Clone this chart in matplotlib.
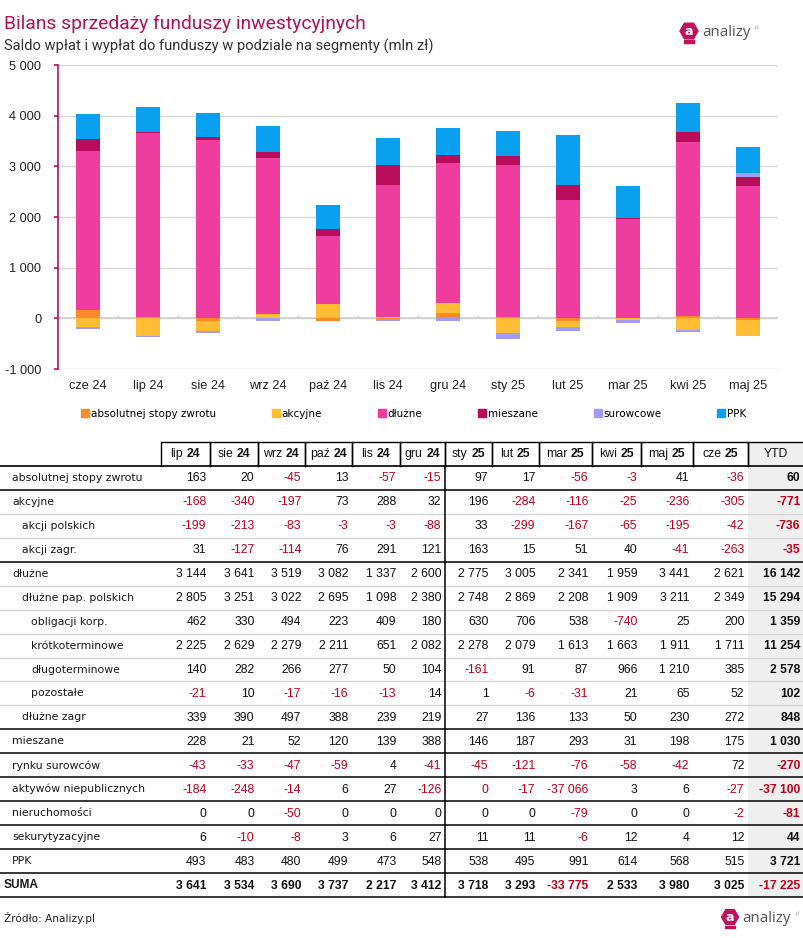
import matplotlib
matplotlib.use("Agg")
import matplotlib.pyplot as plt
import numpy as np
from matplotlib.lines import Line2D
from matplotlib.patches import RegularPolygon, Rectangle
from matplotlib.ticker import FuncFormatter, MultipleLocator

# ---------------- data ----------------
chart_months = ["cze 24", "lip 24", "sie 24", "wrz 24", "paź 24", "lis 24",
                "gru 24", "sty 25", "lut 25", "mar 25", "kwi 25", "maj 25"]
table_months = ["lip 24", "sie 24", "wrz 24", "paź 24", "lis 24", "gru 24",
                "sty 25", "lut 25", "mar 25", "kwi 25", "maj 25", "cze 25"]
ytd_label = "YTD"

absolutnej = [163, 20, -45, 13, -57, -15, 97, 17, -56, -3, 41, -36, 60]
akcyjne = [-168, -340, -197, 73, 288, 32, 196, -284, -116, -25, -236, -305, -771]
akcji_polskich = [-199, -213, -83, -3, -3, -88, 33, -299, -167, -65, -195, -42, -736]
akcji_zagr = [31, -127, -114, 76, 291, 121, 163, 15, 51, 40, -41, -263, -35]
dluzne = [3144, 3641, 3519, 3082, 1337, 2600, 2775, 3005, 2341, 1959, 3441, 2621, 16142]
dluzne_pap_pl = [2805, 3251, 3022, 2695, 1098, 2380, 2748, 2869, 2208, 1909, 3211, 2349, 15294]
obligacji_korp = [462, 330, 494, 223, 409, 180, 630, 706, 538, -740, 25, 200, 1359]
krotkoterminowe = [2225, 2629, 2279, 2211, 651, 2082, 2278, 2079, 1613, 1663, 1911, 1711, 11254]
dlugoterminowe = [140, 282, 266, 277, 50, 104, -161, 91, 87, 966, 1210, 385, 2578]
pozostale = [-21, 10, -17, -16, -13, 14, 1, -6, -31, 21, 65, 52, 102]
dluzne_zagr = [339, 390, 497, 388, 239, 219, 27, 136, 133, 50, 230, 272, 848]
mieszane = [228, 21, 52, 120, 139, 388, 146, 187, 293, 31, 198, 175, 1030]
surowcow = [-43, -33, -47, -59, 4, -41, -45, -121, -76, -58, -42, 72, -270]
niepublicznych = [-184, -248, -14, 6, 27, -126, -0.4, -17, -37066, 3, 6, -27, -37100]
nieruchomosci = [0, 0, -50, 0, 0, 0, 0, 0, -79, 0, 0, -2, -81]
sekurytyzacyjne = [6, -10, -8, 3, 6, 27, 11, 11, -6, 12, 4, 12, 44]
ppk = [493, 483, 480, 499, 473, 548, 538, 495, 991, 614, 568, 515, 3721]
suma = [3641, 3534, 3690, 3737, 2217, 3412, 3718, 3293, -33775, 2533, 3980, 3025, -17225]

table_rows = [
    ("absolutnej stopy zwrotu", 0, absolutnej),
    ("akcyjne", 0, akcyjne),
    ("akcji polskich", 1, akcji_polskich),
    ("akcji zagr.", 1, akcji_zagr),
    ("dłużne", 0, dluzne),
    ("dłużne pap. polskich", 1, dluzne_pap_pl),
    ("obligacji korp.", 2, obligacji_korp),
    ("krótkoterminowe", 2, krotkoterminowe),
    ("długoterminowe", 2, dlugoterminowe),
    ("pozostałe", 2, pozostale),
    ("dłużne zagr", 1, dluzne_zagr),
    ("mieszane", 0, mieszane),
    ("rynku surowców", 0, surowcow),
    ("aktywów niepublicznych", 0, niepublicznych),
    ("nieruchomości", 0, nieruchomosci),
    ("sekurytyzacyjne", 0, sekurytyzacyjne),
    ("PPK", 0, ppk),
    ("SUMA", -1, suma),
]

chart_series = [
    ("absolutnej stopy zwrotu", absolutnej, "#ff8a2b"),
    ("akcyjne", akcyjne, "#ffbd35"),
    ("dłużne", dluzne, "#ee3d9f"),
    ("mieszane", mieszane, "#b80d5a"),
    ("surowcowe", surowcow, "#a09cf8"),
    ("PPK", ppk, "#0aa0f0"),
]

# ---------------- figure ----------------
W, H = 804, 938
fig = plt.figure(figsize=(W / 100, H / 100), dpi=100)
CRIMSON = "#b3115a"
RED = "#c0001a"

# chart axes
ax = fig.add_axes([58 / W, 1 - 369 / H, (778 - 58) / W, (369 - 65) / H])
n = len(chart_months)
x = np.arange(n)
pos = np.zeros(n)
neg = np.zeros(n)
for name, vals, col in chart_series:
    v = np.array(vals[:n], dtype=float)
    bottom = np.where(v >= 0, pos, neg)
    ax.bar(x, v, 0.4, bottom=bottom, color=col, zorder=3, linewidth=0)
    pos += np.clip(v, 0, None)
    neg += np.clip(v, None, 0)

ax.set_xlim(-0.5, n - 0.5)
ax.set_ylim(-1000, 5000)
ax.yaxis.set_major_locator(MultipleLocator(1000))
ax.yaxis.set_major_formatter(FuncFormatter(lambda v, p: f"{int(v):,}".replace(",", " ")))
ax.grid(axis="y", color="#d9d9d9", linewidth=1, zorder=0)
ax.axhline(0, color="#cfcfcf", linewidth=1.2, zorder=2)
ax.vlines(np.arange(n) + 0.5, 0, 75, color="#cfcfcf", linewidth=1, zorder=2)
for s in ["top", "right", "bottom"]:
    ax.spines[s].set_visible(False)
ax.spines["left"].set_color(CRIMSON)
ax.spines["left"].set_linewidth(1.2)
ax.set_xticks(x)
ax.set_xticklabels(chart_months)
ax.tick_params(axis="x", length=0, pad=8, labelsize=9.2, labelcolor="#222222")
ax.tick_params(axis="y", length=3, width=1.2, color=CRIMSON, pad=9, labelsize=9.2, labelcolor="#222222")
for lab in ax.get_xticklabels() + ax.get_yticklabels():
    lab.set_fontfamily("Liberation Sans")

# legend
handles = [Line2D([], [], marker="s", linestyle="none", markersize=6,
                  markerfacecolor=c, markeredgecolor=c) for _, _, c in chart_series]
fig.legend(handles, [s[0] for s in chart_series], loc="center",
           bbox_to_anchor=(414 / W, 1 - 414 / H), ncol=6, frameon=False,
           prop={"family": "DejaVu Sans", "size": 7.5}, handlelength=0.6,
           handletextpad=0.25, columnspacing=5.45, borderpad=0)

# overlay axes in pixel coordinates
ov = fig.add_axes([0, 0, 1, 1])
ov.set_xlim(0, W)
ov.set_ylim(H, 0)
ov.axis("off")
ov.patch.set_visible(False)

# titles
ov.text(4, 24, "Bilans sprzedaży funduszy inwestycyjnych", fontsize=13.9,
        family="Roboto", color=CRIMSON, va="center", ha="left")
ov.text(4, 46, "Saldo wpłat i wypłat do funduszy w podziale na segmenty (mln zł)",
        fontsize=10.6, family="Roboto", color="#333333", va="center", ha="left")


def logo(cx, cy, r, fs):
    ov.add_patch(RegularPolygon((cx, cy), numVertices=6, radius=r,
                                orientation=np.pi / 6, color="#c0125b", zorder=5))
    ov.add_patch(Rectangle((cx - r * 0.55, cy + r * 1.05), r * 1.1, r * 0.28,
                           color="#c0125b", zorder=5))
    ov.text(cx, cy + 0.5, "a", color="white", fontsize=fs * 0.85, weight="bold",
            ha="center", va="center", family="DejaVu Sans", zorder=6)
    t = ov.text(cx + r + 4, cy + 2, "analizy", color="#555555", fontsize=fs,
                ha="left", va="center", family="Open Sans", zorder=6)
    return t


logo(689, 31, 9.0, 10.8)
logo(730, 917, 8.5, 10.8)
ov.text(755, 28, "pl", color="#999999", fontsize=3.5, ha="left", va="center")
ov.text(796, 913, "pl", color="#999999", fontsize=3.5, ha="left", va="center")

# ---------------- table ----------------
col_edges = [161, 210, 258, 305, 352, 400, 445, 492, 539, 592, 641, 693, 748, 804]
hdr_top, hdr_bot = 442, 466
row_h = (897 - 466) / len(table_rows)

# YTD background
ov.add_patch(Rectangle((col_edges[-2], hdr_top), col_edges[-1] - col_edges[-2],
                       897 - hdr_top, color="#efefef", zorder=0, linewidth=0))

renderer = fig.canvas.get_renderer()
hcy = (hdr_top + hdr_bot) / 2
headers = table_months + [ytd_label]
for i, h in enumerate(headers):
    l, r = col_edges[i], col_edges[i + 1]
    ov.plot([l, l, r, r], [hdr_bot, hdr_top, hdr_top, hdr_bot], color="black", lw=1, zorder=3)
    cx = (l + r) / 2
    if " " in h:
        m, yv = h.split(" ")
        t1 = ov.text(cx, hcy, m, ha="left", va="center", fontsize=8.8,
                     family="Liberation Sans", color="#111111")
        t2 = ov.text(cx, hcy, yv, ha="left", va="center", fontsize=8.8,
                     family="Liberation Sans", weight="bold", color="#111111")
        w1 = t1.get_window_extent(renderer).width
        w2 = t2.get_window_extent(renderer).width
        gap = 3.5
        start = cx - (w1 + gap + w2) / 2
        t1.set_x(start)
        t2.set_x(start + w1 + gap)
    else:
        ov.text(cx, hcy, h, ha="center", va="center", fontsize=8.8,
                family="Liberation Sans", color="#111111")

# horizontal lines
black_after = {0, 3, 10, 11, 12, 13, 14, 15, 16, 17}
ov.plot([0, W], [hdr_bot, hdr_bot], color="black", lw=1.2, zorder=3)
for i in range(len(table_rows)):
    yb = hdr_bot + row_h * (i + 1)
    if i in black_after:
        ov.plot([0, W], [yb, yb], color="black", lw=1.1, zorder=3)
    else:
        ov.plot([0, W], [yb, yb], color="#d4d4d4", lw=1.0, zorder=2)
# vertical separator
ov.plot([col_edges[6], col_edges[6]], [hdr_bot, 897], color="black", lw=1.1, zorder=3)

indent = {-1: 4, 0: 12, 1: 22, 2: 31}
for i, (label, lvl, vals) in enumerate(table_rows):
    cy = hdr_bot + row_h * (i + 0.5)
    is_sum = lvl == -1
    ov.text(indent[lvl], cy, label, ha="left", va="center",
            fontsize=8.6 if is_sum else 7.8,
            family="Liberation Sans" if is_sum else "DejaVu Sans",
            weight="bold" if is_sum else "normal", color="#1a1a1a")
    for j, v in enumerate(vals):
        s = f"{int(round(v)):,}".replace(",", " ")
        col = RED if v < 0 else "#111111"
        bold = is_sum or j == len(vals) - 1
        ov.text(col_edges[j + 1] - 3.5, cy + 0.5, s, ha="right", va="center",
                fontsize=8.7, family="Liberation Sans",
                weight="bold" if bold else "normal", color=col)

ov.text(4, 918, "Źródło: Analizy.pl", ha="left", va="center", fontsize=7.6,
        family="DejaVu Sans", color="#222222")

fig.savefig("out.png", dpi=100)
